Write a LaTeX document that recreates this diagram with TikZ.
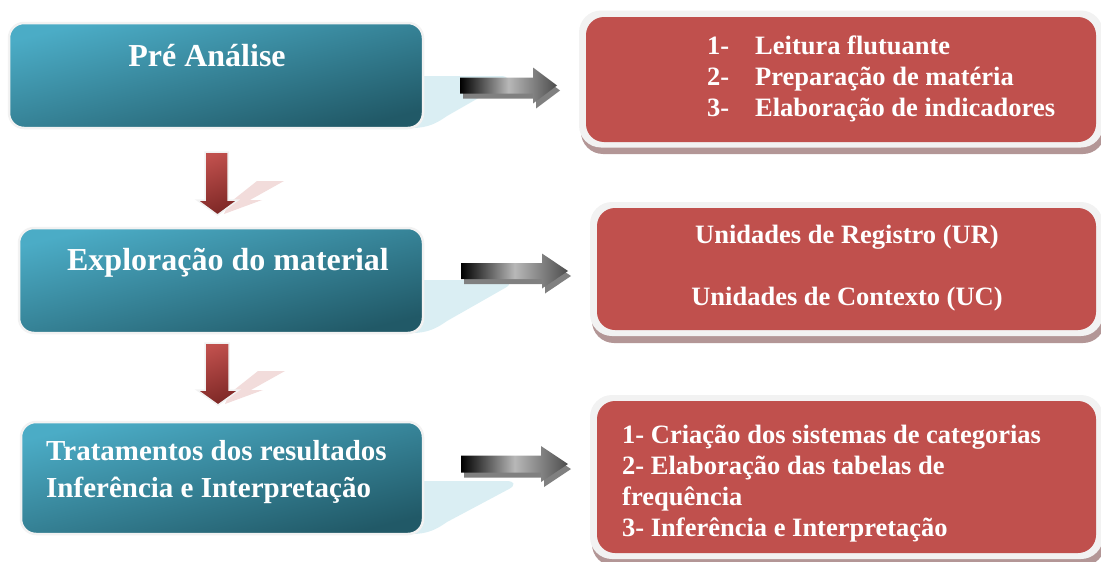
\documentclass[tikz,border=0pt]{standalone}
\usepackage{fontspec}
\setmainfont{Liberation Serif}
\definecolor{tealL}{HTML}{4BACC6}
\definecolor{tealD}{HTML}{215967}
\definecolor{redB}{HTML}{C0504D}
\definecolor{redD}{HTML}{7E2826}
\definecolor{refl}{HTML}{DAEEF3}
\definecolor{pinkS}{HTML}{F2DCDB}
\definecolor{rimC}{HTML}{F2F2F2}
\definecolor{shadC}{HTML}{B39696}
\newcommand\grayarr[6]{% x1, xh, xt, yc, shaft half, head half
  \fill[black!50] (#1+3,#4-#5+5) -- (#2+3,#4-#5+5) -- (#2+3,#4-#6+5) -- (#3+3,#4+5) -- (#2+3,#4+#6+5) -- (#2+3,#4+#5+5) -- (#1+3,#4+#5+5) -- cycle;
  \shade[left color=black, right color=black!70, middle color=black!28]
    (#1,#4-#5) -- (#2,#4-#5) -- (#2,#4-#6) -- (#3,#4) -- (#2,#4+#6) -- (#2,#4+#5) -- (#1,#4+#5) -- cycle;}
\newcommand\redarr[7]{% xl, xr, ytop, yhead, hxl, hxr, ytip
  \fill[pinkS] (#2+29,#4-19) -- (#2+56,#4-19) -- (#2+22,#4) -- (#2+34,#4) -- (#6-14,#7-1) -- (#2,#4+4) -- cycle;
  \shade[top color=redB, bottom color=redD, shading angle=20, draw=rimC, line width=1.5pt]
    (#1,#3) -- (#2,#3) -- (#2,#4) -- (#6,#4) -- ({(#5+#6)/2},#7) -- (#5,#4) -- (#1,#4) -- cycle;}
\newcommand\reflshape[3]{% top y, right x, bottom y
  \fill[refl] (415,#1) -- (#2-8,#1) .. controls (#2+1,#1) and (#2+2,#1+4) .. (#2-5,#1+8) -- (447,#3-12) .. controls (437,#3-5) and (428,#3) .. (412,#3) -- cycle;}
\begin{document}
\begin{tikzpicture}[x=1pt,y=-1pt,
  tealbox/.style={rectangle, rounded corners=15pt, draw=rimC, line width=2.5pt,
    top color=tealL, bottom color=tealD, shading angle=14, inner sep=0},
  redrim/.style={rectangle, rounded corners=22pt, fill=rimC, inner sep=0},
  redshadow/.style={rectangle, rounded corners=22pt, fill=shadC, inner sep=0},
  redbox/.style={rectangle, rounded corners=18pt, fill=redB, inner sep=0},
  ttl/.style={text=white, font=\bfseries\fontsize{32}{37}\selectfont, inner sep=0},
  ttlb/.style={text=white, font=\bfseries\fontsize{29}{37}\selectfont, inner sep=0, align=left},
  rtxt/.style={text=white, font=\bfseries\fontsize{26.5}{31}\selectfont, inner sep=0}]
\useasboundingbox (0,0) rectangle (1101,562);

% reflections of the teal boxes
\reflshape{76}{508}{128}
\reflshape{280}{510}{333}
\reflshape{481}{514}{534}

% teal boxes
\node[tealbox, minimum width=414pt, minimum height=105pt] (t1) at (216,75.5) {};
\node[tealbox, minimum width=404pt, minimum height=105pt] (t2) at (221,280.5) {};
\node[tealbox, minimum width=402pt, minimum height=112pt] (t3) at (222,478) {};
\node[ttl] (t1txt) at (207,56) {Pré Análise};
\node[ttl] (t2txt) at (228,263) {Exploração do material};
\node[ttlb, anchor=west] (t3txt) at (46,472) {Tratamentos dos resultados\\Inferência e Interpretação};

% red boxes
\node[redshadow, minimum width=524pt, minimum height=136pt] (r1s) at (843,86) {};
\node[redrim, minimum width=524pt, minimum height=137pt] (r1o) at (841,79) {};
\node[redbox, minimum width=510pt, minimum height=125pt] (r1) at (841,79.5) {};
\node[redshadow, minimum width=513pt, minimum height=134pt] (r2s) at (848.5,276) {};
\node[redrim, minimum width=513pt, minimum height=134pt] (r2o) at (846.5,269) {};
\node[redbox, minimum width=499pt, minimum height=122pt] (r2) at (846.5,269) {};
\node[redshadow, minimum width=513pt, minimum height=164pt] (r3s) at (848.5,484) {};
\node[redrim, minimum width=513pt, minimum height=164pt] (r3o) at (846.5,477) {};
\node[redbox, minimum width=499pt, minimum height=152pt] (r3) at (846.5,477) {};

\node[rtxt, anchor=west, align=left] (r1txt) at (707,79) {\makebox[48pt][l]{1-}Leitura flutuante\\\makebox[48pt][l]{2-}Preparação de matéria\\\makebox[48pt][l]{3-}Elaboração de indicadores};
\node[rtxt, align=center] (r2txt) at (847,268.5) {Unidades de Registro (UR)\\[31pt]Unidades de Contexto (UC)};
\node[rtxt, anchor=west, align=left] (r3txt) at (622,484) {1- Criação dos sistemas de categorias\\2- Elaboração das tabelas de\\frequência\\3- Inferência e Interpretação};

% gray arrows
\grayarr{460}{533}{557}{85.5}{8}{18}
\grayarr{461}{542}{568}{271}{8}{17.5}
\grayarr{461}{541}{568}{464}{8.5}{18}

% red down arrows
\redarr{205}{228}{152}{200}{197}{238}{215}
\redarr{205}{229}{343}{390}{197}{239}{405}
\end{tikzpicture}
\end{document}
